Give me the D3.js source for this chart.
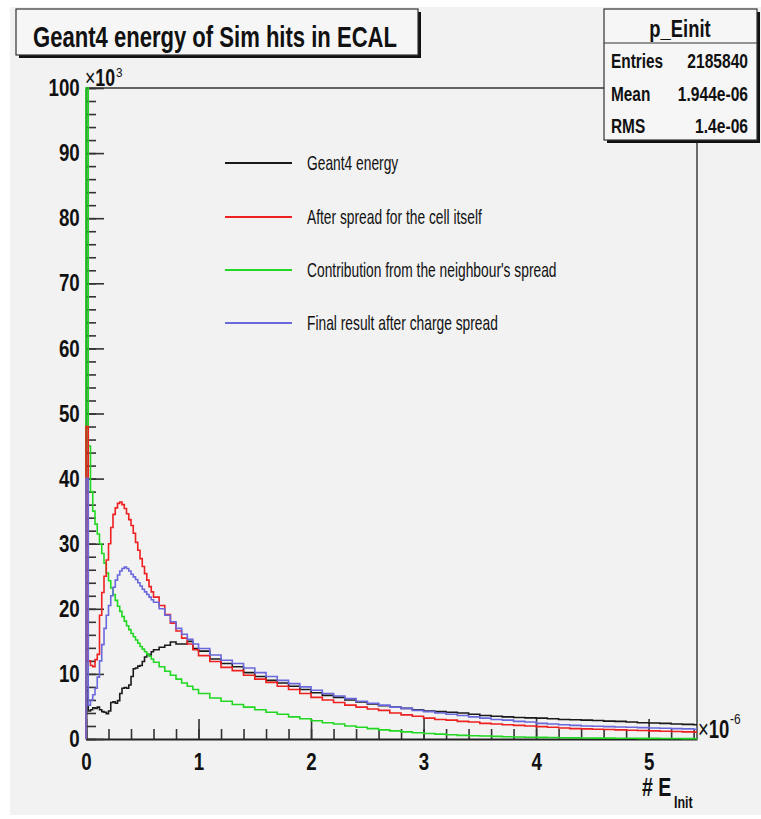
<!DOCTYPE html>
<html><head><meta charset="utf-8">
<script src="https://cdn.jsdelivr.net/npm/d3@7"></script>
<style>body{margin:0;background:#fff}svg{display:block}</style>
</head><body><svg id="c" width="761" height="819"></svg>
<script>
// ---- data (values in units of 10^3 entries, x in units of 10^-6) ----
const binEdges = [0,0.02,0.04,0.06,0.08,0.10,0.12,0.14,0.16,0.18,0.20,0.22,0.24,0.26,0.28,0.30,0.32,0.34,0.36,0.38,0.40,0.42,0.44,0.46,0.48,0.50,0.52,0.54,0.56,0.58,0.60,
  0.65,0.70,0.75,0.80,0.85,0.90,0.95,1.0,
  1.1,1.2,1.3,1.4,1.5,1.6,1.7,1.8,1.9,2.0,2.1,2.2,2.3,2.4,2.5,2.6,2.7,2.8,2.9,3.0,3.1,3.2,3.3,3.4,3.5,3.6,3.7,3.8,3.9,4.0,4.1,4.2,4.3,4.4,4.5,4.6,4.7,4.8,4.9,5.0,5.1,5.2,5.3,5.4,
  5.43];
const geant4 = [7.5,4.3,4.5,4.8,4.7,4.9,4.5,4.2,4.1,3.9,4.3,5.6,5.7,5.5,5.9,7.0,7.8,7.9,7.8,8.3,9.6,10.8,10.9,11.2,11.3,11.9,12.6,13.0,12.9,13.4,
  13.7,14.1,14.4,14.9,14.6,14.6,15.0,13.9,
  13.5,12.3,11.6,11.1,10.2,9.6,9.0,8.6,8.1,7.6,7.1,6.7,6.4,6.0,5.7,5.4,5.1,4.9,4.7,4.5,4.3,4.2,4.1,4.0,3.8,3.6,3.5,3.4,3.3,3.25,3.2,3.1,3.0,2.95,2.9,2.85,2.75,2.7,2.6,2.5,2.45,2.4,2.3,2.25,2.2];
const cellSpread = [48,12,11.3,11.1,12.2,13,19,22.5,25,27.5,30,32.5,34.5,35.5,36.2,36.4,36,35.4,34.6,33.7,32.8,31.6,30.2,29,27.7,26.5,25.4,24.4,23.4,22.6,
  21.8,20.5,19.1,17.8,16.6,15.5,14.6,13.7,
  12.8,11.9,11.0,10.5,9.8,9.2,8.7,8.1,7.6,7.0,6.4,6.0,5.6,5.2,4.9,4.6,4.4,4.0,3.7,3.5,3.2,3.0,2.9,2.7,2.6,2.4,2.3,2.2,2.1,2.0,1.9,1.8,1.7,1.6,1.55,1.5,1.45,1.4,1.35,1.3,1.25,1.2,1.15,1.1,1.05];
const neighbourSpread = [130,45,38,35,33,31.5,30,28.5,27,25.5,24.3,23.2,22.2,21.3,20.4,19.6,18.8,18.1,17.4,16.8,16.2,15.7,15.2,14.7,14.2,13.8,13.4,13.0,12.7,12.3,
  11.8,11.1,10.4,9.8,9.2,8.6,8.1,7.6,
  7.0,6.3,5.8,5.3,4.9,4.5,4.1,3.8,3.4,3.1,2.8,2.5,2.3,2.0,1.8,1.6,1.4,1.25,1.1,0.95,0.85,0.75,0.65,0.55,0.5,0.45,0.4,0.35,0.3,0.27,0.25,0.22,0.2,0.18,0.16,0.14,0.13,0.12,0.11,0.1,0.09,0.08,0.07,0.06,0.05];
const finalResult = [40,5.2,6.0,6.8,7.8,9.5,12.0,14.5,17.0,19.0,20.5,22.0,23.3,24.4,25.2,25.8,26.2,26.4,26.2,25.8,25.3,24.9,24.5,24.0,23.5,23.0,22.6,22.2,21.8,21.4,
  21.0,20.0,19.0,18.0,17.0,16.1,15.3,14.6,
  13.9,12.9,12.1,11.6,10.9,10.2,9.6,9.0,8.5,8.0,7.5,7.0,6.6,6.2,5.8,5.5,5.2,4.9,4.7,4.4,4.2,4.0,3.8,3.6,3.4,3.2,3.0,2.9,2.7,2.6,2.4,2.3,2.2,2.1,2.0,1.95,1.9,1.85,1.8,1.75,1.7,1.65,1.6,1.55,1.5];

const seriesNames = ["Geant4 energy","After spread for the cell itself","Contribution from the neighbour's spread","Final result after charge spread"];
const seriesColors = ["#1a1a1a","#ee2020","#22d822","#6a68dc"];
const xTickValues = [0,1,2,3,4,5];
const yTickValues = [0,10,20,30,40,50,60,70,80,90,100];
const titleText = "Geant4 energy of Sim hits in ECAL";
const statsTitle = "p_Einit";
const statsLabels = ["Entries","Mean","RMS"];
const statsValues = ["2185840","1.944e-06","1.4e-06"];

// ---- layout ----
const svg = d3.select("#c");
const FONT = "'Liberation Sans', Arial, Helvetica, sans-serif";
const x = d3.scaleLinear().domain([0, 5.43]).range([86, 697]);
const y = d3.scaleLinear().domain([0, 100]).range([739, 88]);

// condensed text helper (horizontal scale about the anchor point)
function ctext(str, px, py, size, weight, sx, anchor){
  return svg.append("g").attr("transform",`translate(${px},${py}) scale(${sx},1)`)
    .append("text").attr("x",0).attr("y",0).attr("text-anchor",anchor||"start")
    .attr("font-family",FONT).attr("font-size",size).attr("font-weight",weight||"normal")
    .attr("fill","#111").text(str);
}

// pad background
svg.append("rect").attr("x",10).attr("y",7).attr("width",751).attr("height",808).attr("fill","#f2f2f2");

// axes
const xMinor = d3.range(0, 5.43, 0.2);
const yMinor = d3.range(0, 100.01, 2);
const axG = svg.append("g");
axG.append("g").attr("transform","translate(0,739)")
  .call(d3.axisBottom(x).tickValues(xMinor).tickSizeInner(-10).tickSizeOuter(0).tickFormat(""))
  .call(g=>g.select(".domain").remove());
axG.append("g").attr("transform","translate(86,0)")
  .call(d3.axisLeft(y).tickValues(yMinor).tickSizeInner(-10).tickSizeOuter(0).tickFormat(""))
  .call(g=>g.select(".domain").remove());
axG.append("g").attr("transform","translate(0,739)")
  .call(d3.axisBottom(x).tickValues(xTickValues).tickSizeInner(-20).tickSizeOuter(0).tickPadding(14).tickFormat(d3.format("d")));
axG.append("g").attr("transform","translate(86,0)")
  .call(d3.axisLeft(y).tickValues(yTickValues).tickSizeInner(-18).tickSizeOuter(0).tickPadding(8).tickFormat(d3.format("d")));
axG.selectAll(".tick line").attr("stroke","#333").attr("stroke-width",1.6);
axG.selectAll(".domain").attr("stroke","#222").attr("stroke-width",2);
axG.selectAll(".tick text").attr("font-family",FONT).attr("font-weight","bold").attr("font-size",24)
  .attr("fill","#111").attr("transform","scale(0.78,1)");

// frame top & right
svg.append("line").attr("x1",86).attr("x2",697).attr("y1",88).attr("y2",88).attr("stroke","#333").attr("stroke-width",1.6);
svg.append("line").attr("x1",697).attr("x2",697).attr("y1",88).attr("y2",739).attr("stroke","#333").attr("stroke-width",1.4);

// curves
svg.append("clipPath").attr("id","clip").append("rect").attr("x",85).attr("y",87).attr("width",613).attr("height",653);
const line = d3.line().x(d=>x(d[0])).y(d=>y(d[1])).curve(d3.curveStepAfter);
function pts(vals){
  const p = [[binEdges[0],0]];
  vals.forEach((v,i)=>p.push([binEdges[i],v]));
  p.push([binEdges[vals.length], vals[vals.length-1]]);
  return p;
}
const allSeries = [geant4, cellSpread, neighbourSpread, finalResult];
const drawOrder = [0,2,1,3];
const cg = svg.append("g").attr("clip-path","url(#clip)");
drawOrder.forEach(i=>{
  cg.append("path").attr("d", line(pts(allSeries[i]))).attr("fill","none")
    .attr("stroke", seriesColors[i]).attr("stroke-width",1.6).attr("stroke-linejoin","miter");
});

// legend
const legY = [163,217,270,323];
seriesNames.forEach((n,i)=>{
  svg.append("line").attr("x1",225).attr("x2",292).attr("y1",legY[i]).attr("y2",legY[i])
    .attr("stroke",seriesColors[i]).attr("stroke-width",2);
  ctext(n, 307, legY[i]+7, 20, "normal", 0.69);
});

// multipliers
const m1 = ctext("", 85, 86, 24, "normal", 0.74);
m1.append("tspan").text("×");
m1.append("tspan").attr("font-weight","bold").text("10");
ctext("3", 116, 77, 13, "normal", 0.9);
const m2 = ctext("", 698, 738, 25, "normal", 0.74);
m2.append("tspan").text("×");
m2.append("tspan").attr("font-weight","bold").text("10");
ctext("-6", 730, 724, 14, "normal", 0.85);

// x axis title
ctext("# E", 642, 796, 25, "bold", 0.78);
ctext("Init", 674, 808, 16, "bold", 0.78);

// title box
svg.append("rect").attr("x",19).attr("y",12).attr("width",402).attr("height",46).attr("fill","#111");
svg.append("rect").attr("x",16).attr("y",9).attr("width",402).attr("height",46).attr("fill","#f6f6f6").attr("stroke","#333").attr("stroke-width",1.2);
svg.append("text").attr("x",33).attr("y",47).text(titleText).attr("font-family",FONT).attr("font-size",30)
  .attr("font-weight","bold").attr("fill","#111").attr("textLength",364).attr("lengthAdjust","spacingAndGlyphs");

// stats box
svg.append("rect").attr("x",607).attr("y",12).attr("width",153).attr("height",131).attr("fill","#111");
svg.append("rect").attr("x",604).attr("y",9).attr("width",153).attr("height",131).attr("fill","#f6f6f6").attr("stroke","#333").attr("stroke-width",1.2);
svg.append("line").attr("x1",604).attr("x2",757).attr("y1",43).attr("y2",43).attr("stroke","#333").attr("stroke-width",1.2);
ctext(statsTitle, 680, 37, 23, "bold", 0.8, "middle");
const rowY = [68,101,133];
statsLabels.forEach((l,i)=>{
  ctext(l, 611, rowY[i], 20, "bold", 0.77);
  ctext(statsValues[i], 748, rowY[i], 20, "bold", 0.78, "end");
});
</script></body></html>
